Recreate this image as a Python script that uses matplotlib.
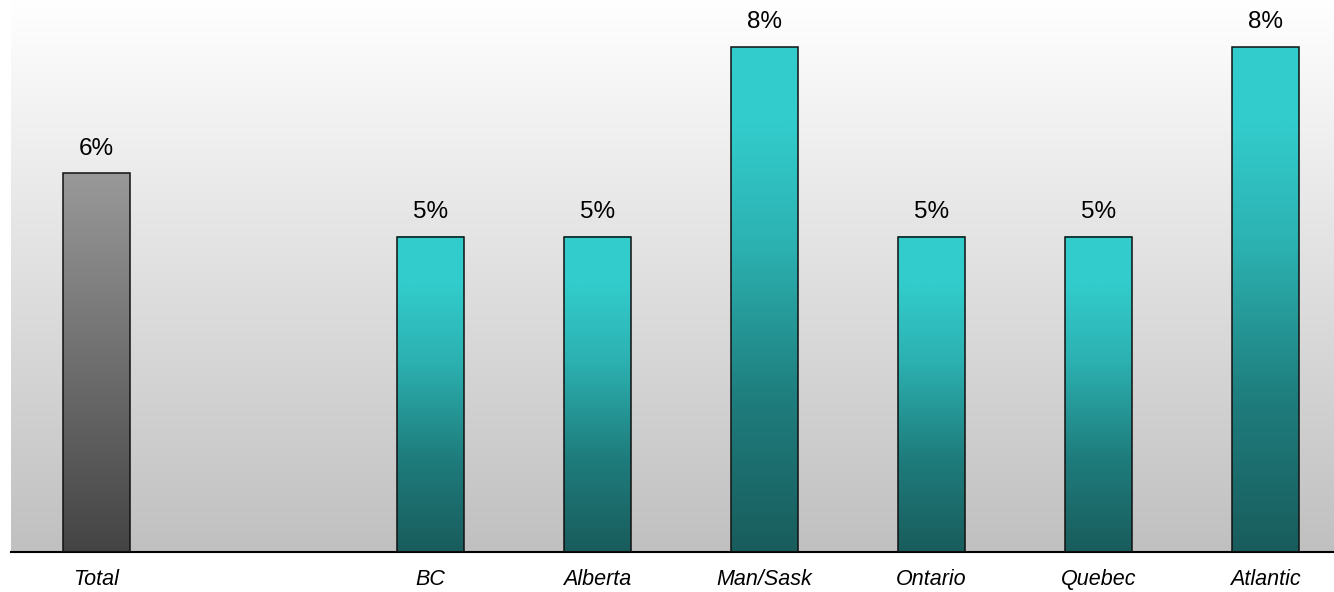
import matplotlib
matplotlib.use('Agg')
import matplotlib.pyplot as plt
import numpy as np
from matplotlib.colors import LinearSegmentedColormap

# data
regions = ['Total', '', 'BC', 'Alberta', 'Man/Sask', 'Ontario', 'Quebec', 'Atlantic']
values = [6, None, 5, 5, 8, 5, 5, 8]
labels = ['6%', '', '5%', '5%', '8%', '5%', '5%', '8%']

plt.rcParams['font.family'] = ['Liberation Sans', 'DejaVu Sans']

fig = plt.figure(figsize=(13.34, 5.92), dpi=100)
ax = fig.add_axes([11/1334, 40/592, 1 - 11/1334, 552/592])

# background gradient, white at top to grey at bottom
bg = LinearSegmentedColormap.from_list('bg', ['#c0c0c0', '#ffffff'])
grad = np.linspace(0, 1, 256).reshape(-1, 1)
ax.imshow(grad, aspect='auto', cmap=bg, origin='lower',
          extent=(-0.51, 7.41, 0, 8.75), zorder=0)

teal = LinearSegmentedColormap.from_list(
    'teal', [(0, '#195c5c'), (0.3, '#1f7d7d'), (0.6, '#2cb0b0'), (0.85, '#33cccc'), (1, '#33cccc')])
grey = LinearSegmentedColormap.from_list('grey', [(0, '#444444'), (1, '#999999')])

w = 0.4
for i, v in enumerate(values):
    if v is None:
        continue
    cm = grey if i == 0 else teal
    ax.imshow(grad, aspect='auto', cmap=cm, origin='lower',
              extent=(i - w/2, i + w/2, 0, v), zorder=2)
    ax.bar(i, v, width=w, facecolor='none', edgecolor='#111111', linewidth=1.1, zorder=3)
    ax.text(i, v + 0.22, labels[i], ha='center', va='bottom', fontsize=17.5)

ax.set_xticks(range(len(regions)))
ax.set_xticklabels(regions, fontstyle='italic', fontsize=15.5)
ax.tick_params(axis='x', length=0, pad=12)
ax.set_yticks([])
for s in ['top', 'right', 'left']:
    ax.spines[s].set_visible(False)
ax.spines['bottom'].set_linewidth(1.5)
ax.set_xlim(-0.51, 7.41)
ax.set_ylim(0, 8.75)

fig.savefig('out.png', dpi=100)
